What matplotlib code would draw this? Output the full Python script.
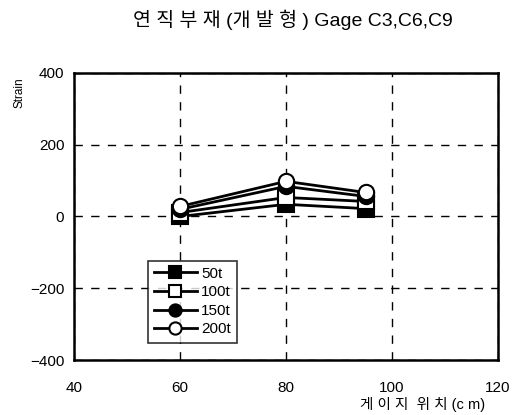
import matplotlib
matplotlib.use("Agg")
import matplotlib.pyplot as plt

plt.rcParams['font.family'] = ['Liberation Sans', 'Noto Sans CJK KR', 'DejaVu Sans']

positions = [60, 80, 95]
loads = ["50t", "100t", "150t", "200t"]
strain_50t = [0, 34, 22]
strain_100t = [11, 53, 42]
strain_150t = [20, 84, 56]
strain_200t = [28, 98, 67]

series = [strain_50t, strain_100t, strain_150t, strain_200t]
markers = ["s", "s", "o", "o"]
faces = ["black", "white", "black", "white"]

fig = plt.figure(figsize=(5.18, 4.15), dpi=100)
ax = fig.add_axes([74 / 518, 55 / 415, 424 / 518, 287 / 415])

for vals, lab, m, fc in zip(series, loads, markers, faces):
    ax.plot(positions, vals, color="black", lw=2, marker=m, markersize=11,
            markerfacecolor=fc, markeredgecolor="black", markeredgewidth=1.5, label=lab)

ax.set_xlim(40, 120)
ax.set_ylim(-400, 400)
ax.set_xticks([40, 60, 80, 100, 120])
ax.set_yticks([-400, -200, 0, 200, 400])
ax.grid(True, color="black", linestyle=(0, (6, 6)), lw=1)
ax.tick_params(axis="x", direction="in", length=0, labelsize=11, pad=15)
ax.tick_params(axis="y", direction="in", length=0, labelsize=11, pad=7)
for s in ax.spines.values():
    s.set_linewidth(1.8)

fig.text(0.565, 0.952, "연 직 부 재 (개 발 형 ) Gage C3,C6,C9", ha="center", va="center", fontsize=14)
fig.text(0.037, 0.776, "Strain", rotation=90, ha="center", va="center", fontsize=8.5)
fig.text(0.815, 0.026, "게 이 지  위 치 (c m)", ha="center", va="center", fontsize=10.5)

leg = ax.legend(loc="upper left", bbox_to_anchor=(0.156, 0.373), fontsize=11, frameon=True,
                fancybox=False, edgecolor="black", handlelength=2.8, labelspacing=0.3,
                borderpad=0.4, handletextpad=0.3, markerscale=0.8)
leg.get_frame().set_linewidth(1.2)

fig.savefig("out.png", dpi=100)
